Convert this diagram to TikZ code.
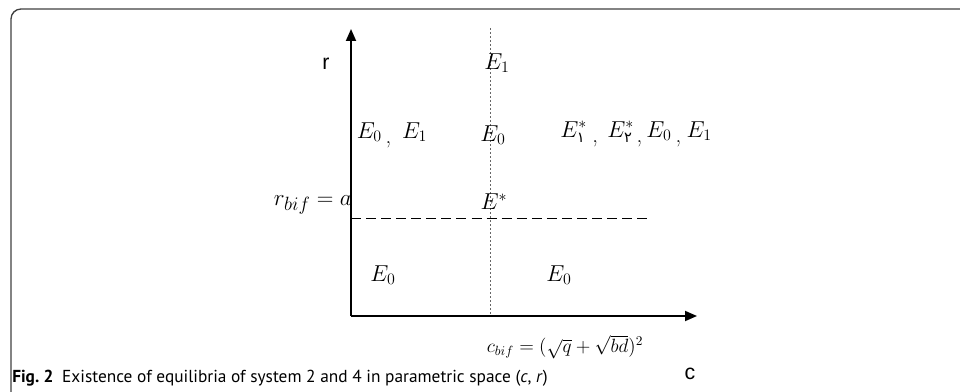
\documentclass[tikz,border=0pt]{standalone}
\usepackage{amsmath}
\usepackage{fontspec}
\usepackage{tikz}
\usetikzlibrary{arrows.meta}
\newfontfamily\arabicfont[Script=Arabic]{DejaVu Sans}
\newfontfamily\axisfont{Liberation Sans}
\newfontfamily\capfont{PT Sans}
\newcommand{\ar}[1]{\mbox{\fontsize{11}{11}\arabicfont #1}}
\newcommand{\lc}{\raisebox{-4pt}{,}}

\begin{document}
\begin{tikzpicture}[
  x=0.75pt, y=-0.75pt,
  axis/.style={-{Triangle[length=9pt,width=7.5pt]}, line width=1.4pt},
  frame/.style={draw=black!75, line width=1pt, rounded corners=7.5pt},
  bifline/.style={dash pattern=on 7.5pt off 3.8pt, line width=0.6pt},
  guide/.style={dash pattern=on 1.5pt off 1.5pt, line width=0.4pt, draw=black!60},
  eq/.style={inner sep=0pt, font=\fontsize{17}{19}\selectfont},
  axlbl/.style={inner sep=0pt, font=\fontsize{16}{18}\selectfont\axisfont},
]
\useasboundingbox (0,0) rectangle (960,392);

%% ── frame (open at right and bottom) ──────────────────────────────
\draw[frame] (960,9) -- (11,9) -- (11,392);

%% ── axes and guide lines ──────────────────────────────────────────
\coordinate (O)    at (351,316);
\coordinate (ytop) at (351,29);
\coordinate (xend) at (697,316);
\coordinate (vtop) at (490,28);
\coordinate (vbot) at (490,316);
\coordinate (hl)   at (351,218);
\coordinate (hr)   at (650,218);

\draw[guide] (vtop) -- (vbot);
\draw[bifline] (hl) -- (hr);
\draw[axis] (O) -- (ytop);
\draw[axis] (O) -- (xend);

\node[axlbl] (rlbl) at (326,64) {r};
\node[axlbl] (clbl) at (690,374) {c};

%% ── regions ───────────────────────────────────────────────────────
\node[eq] (topE)  at (497,63)  {$E_1$};
\node[eq] (leftE) at (392,135) {$E_0$\,\lc\,\ $E_1$};
\node[eq] (midE)  at (493,135) {$E_0$};
\node[eq] (rightE) at (636,134)
  {$E^*_{\ar{١}}$\hspace{4pt}\lc\hspace{7pt}$E^*_{\ar{٢}}$\hspace{2pt}\lc\hspace{3pt}$E_0$\hspace{3pt}\lc\hspace{4pt}$E_1$};
\node[eq] (starE) at (494,202) {$E^*$};
\node[eq] (lowL)  at (383,275) {$E_0$};
\node[eq] (lowR)  at (559,275) {$E_0$};

%% ── bifurcation values ────────────────────────────────────────────
\node[inner sep=0pt, anchor=east, font=\fontsize{19}{21}\selectfont] (rbif) at (352,205) {$r_{bif}=a$};
\node[inner sep=0pt, font=\fontsize{14.5}{16}\selectfont] (cbif) at (565,347)
  {$c_{bif}=(\sqrt{q}+\sqrt{bd})^2$};

%% ── caption ───────────────────────────────────────────────────────
\node[anchor=west, inner sep=0pt, font=\fontsize{13}{15}\capfont] (cap) at (12,378)
  {\textbf{Fig.~2}\enspace Existence of equilibria of system 2 and 4 in parametric space (\textit{c}, \textit{r})};
\end{tikzpicture}
\end{document}
